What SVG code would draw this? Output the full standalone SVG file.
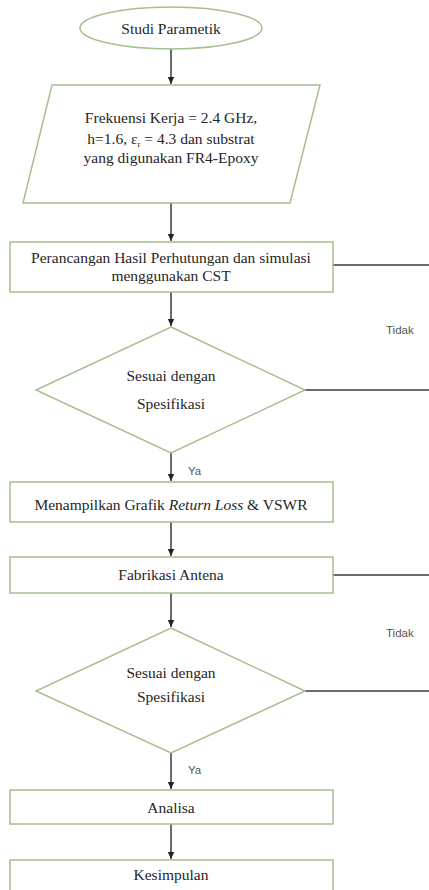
<svg xmlns="http://www.w3.org/2000/svg" width="429" height="890" viewBox="0 0 429 890">
<style>
.shape{fill:#ffffff;stroke:#a5bf8f;stroke-width:1.5}
.t{font-family:"Liberation Serif","Times New Roman",serif;font-size:15.5px;fill:#262626;text-anchor:middle}
.lbl{font-family:"Liberation Sans",Arial,sans-serif;font-size:11.5px;fill:#555}
.c{stroke:#3a3a3a;stroke-width:1.5;fill:none}
</style>
<defs>
<marker id="ah" markerWidth="8" markerHeight="8" refX="7" refY="4" orient="auto" markerUnits="userSpaceOnUse">
<path d="M0,0.8 L7,4 L0,7.2 Z" fill="#222"/>
</marker>
</defs>
<rect width="429" height="890" fill="#ffffff"/>
<g id="connectors">
<line class="c" x1="171" y1="49" x2="171" y2="84" marker-end="url(#ah)"/>
<line class="c" x1="171" y1="203" x2="171" y2="241" marker-end="url(#ah)"/>
<line class="c" x1="171" y1="292" x2="171" y2="326" marker-end="url(#ah)"/>
<line class="c" x1="171" y1="453" x2="171" y2="481" marker-end="url(#ah)"/>
<line class="c" x1="171" y1="522" x2="171" y2="556" marker-end="url(#ah)"/>
<line class="c" x1="171" y1="593" x2="171" y2="627" marker-end="url(#ah)"/>
<line class="c" x1="171" y1="753" x2="171" y2="789" marker-end="url(#ah)"/>
<line class="c" x1="171" y1="824" x2="171" y2="859" marker-end="url(#ah)"/>
<line class="c" x1="333" y1="265" x2="429" y2="265"/>
<line class="c" x1="305" y1="390" x2="429" y2="390"/>
<line class="c" x1="333" y1="575" x2="429" y2="575"/>
<line class="c" x1="305" y1="691" x2="429" y2="691"/>
<text class="lbl" x="386" y="334">Tidak</text>
<text class="lbl" x="386" y="637">Tidak</text>
<text class="lbl" x="188" y="475">Ya</text>
<text class="lbl" x="188" y="774">Ya</text>
</g>
<g id="start">
<ellipse class="shape" cx="171" cy="28" rx="91" ry="21"/>
<text class="t" x="171" y="34">Studi Parametik</text>
</g>
<g id="input">
<polygon class="shape" points="52,85 320,85 290,203 23,203"/>
<text class="t" x="171" y="123">Frekuensi Kerja = 2.4 GHz,</text>
<text class="t" x="171" y="144">h=1.6, ε<tspan font-size="9" dy="3">r</tspan><tspan dy="-3"> = 4.3 dan substrat</tspan></text>
<text class="t" x="171" y="163">yang digunakan FR4-Epoxy</text>
</g>
<g id="design">
<rect class="shape" x="10" y="242" width="323" height="50"/>
<text class="t" x="171" y="263">Perancangan Hasil Perhutungan dan simulasi</text>
<text class="t" x="171" y="281">menggunakan CST</text>
</g>
<g id="decision1">
<polygon class="shape" points="171,327 305,390 171,453 36,390"/>
<text class="t" x="171" y="381">Sesuai dengan</text>
<text class="t" x="171" y="409">Spesifikasi</text>
</g>
<g id="graph">
<rect class="shape" x="10" y="482" width="323" height="40"/>
<text class="t" x="171" y="510">Menampilkan Grafik <tspan font-style="italic">Return Loss</tspan> &amp; VSWR</text>
</g>
<g id="fabrication">
<rect class="shape" x="10" y="557" width="323" height="36"/>
<text class="t" x="171" y="580">Fabrikasi Antena</text>
</g>
<g id="decision2">
<polygon class="shape" points="171,628 305,691 171,753 36,691"/>
<text class="t" x="171" y="678">Sesuai dengan</text>
<text class="t" x="171" y="702">Spesifikasi</text>
</g>
<g id="analysis">
<rect class="shape" x="10" y="790" width="323" height="34"/>
<text class="t" x="171" y="813">Analisa</text>
</g>
<g id="conclusion">
<rect class="shape" x="10" y="860" width="323" height="40"/>
<text class="t" x="171" y="880">Kesimpulan</text>
</g>
</svg>
